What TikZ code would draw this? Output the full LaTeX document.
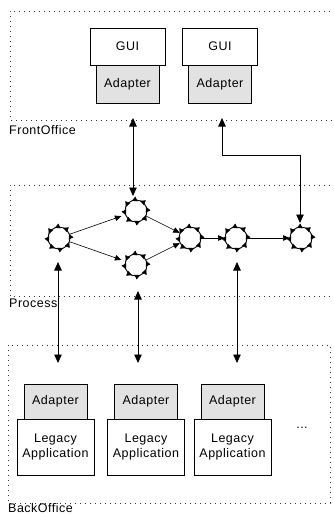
\documentclass[tikz,border=0pt]{standalone}
\usepackage{fontspec}
\setmainfont{Liberation Sans}[LetterSpace=4]
\usetikzlibrary{arrows.meta,decorations.markings}
\definecolor{adgray}{RGB}{226,226,226}
\begin{document}
\begin{tikzpicture}[x=1pt,y=-1pt,
  font=\fontsize{12.5}{15.3}\selectfont,
  zone/.style={line width=0.9pt,dash pattern=on 0.9pt off 4.1pt,black!80},
  box/.style={draw,line width=0.6pt,fill=white,inner sep=0pt},
  guibox/.style={box,minimum width=75pt,minimum height=37pt},
  adbox/.style={box,fill=adgray,minimum width=63pt,minimum height=37pt},
  legbox/.style={box,minimum width=77pt,minimum height=56pt,align=center},
  proc/.style={circle,draw,line width=0.9pt,minimum size=22pt,inner sep=0pt},
  bigb/.style={line width=0.8pt,{Triangle[length=8.5pt,width=7.5pt]}-{Triangle[length=8.5pt,width=7.5pt]}},
  small/.style={line width=0.6pt,-{Triangle[length=6.5pt,width=5.5pt]}},
  lbl/.style={anchor=west,inner sep=0pt}
]
\useasboundingbox (0,0) rectangle (333,515);
% zones
\draw[zone] (340,11) -- (10,11) -- (10,120) -- (340,120);
\draw[zone] (340,185) -- (10,185) -- (10,296) -- (340,296);
\draw[zone] (8,345) rectangle (330,503);
\node[lbl] (lfront) at (9,130) {FrontOffice};
\node[lbl] (lproc) at (9,303) {Process};
\node[lbl] (lback) at (8,508.5) {BackOffice};
% front office
\node[adbox,minimum height=38pt] (fa1) at (127.5,84) {Adapter};
\node[guibox] (g1) at (127.5,46.5) {GUI};
\node[adbox,minimum height=38pt] (fa2) at (220,84) {Adapter};
\node[guibox] (g2) at (220,46.5) {GUI};
% process nodes
\node[proc] (c1) at (59,238) {};
\node[proc] (c2) at (136,211) {};
\node[proc] (c3) at (136,265) {};
\node[proc] (c4) at (190,238) {};
\node[proc] (c5) at (236,238) {};
\node[proc] (c6) at (301,238) {};
\foreach \n in {c1,c2,c3,c4,c5,c6}
  \path[decoration={markings,mark=between positions 0.0625 and 1 step 0.125 with {\arrow{Triangle[length=5pt,width=5pt]}}},decorate] (\n.center) circle (11pt);
\draw[small,shorten >=4pt] (c1) -- (c2);
\draw[small,shorten >=4pt] (c1) -- (c3);
\draw[small] (c2) -- (c4);
\draw[small] (c3) -- (c4);
\draw[small] (c4) -- (c5);
\draw[small] (c5) -- (c6);
% back office
\node[adbox,minimum height=35pt] (ba1) at (55.5,401.5) {Adapter};
\node[legbox] (l1) at (55.5,447) {Legacy\\Application};
\node[adbox,minimum height=35pt] (ba2) at (146,401.5) {Adapter};
\node[legbox] (l2) at (146,447) {Legacy\\Application};
\node[adbox,minimum height=35pt] (ba3) at (232.5,401.5) {Adapter};
\node[legbox] (l3) at (232.5,447) {Legacy\\Application};
\node (dots) at (302,428) {...};
% connector end points
\coordinate (f1) at (133,118);
\coordinate (p1) at (133,196);
\coordinate (f2) at (222,118);
\coordinate (k1) at (222,155);
\coordinate (k2) at (300,155);
\coordinate (p2) at (300,223);
\coordinate (u1) at (58,262);
\coordinate (d1) at (58,363);
\coordinate (u2) at (138,291);
\coordinate (d2) at (138,363);
\coordinate (u3) at (237,262);
\coordinate (d3) at (237,363);
\draw[bigb] (f1) -- (p1);
\draw[bigb] (f2) -- (k1) -- (k2) -- (p2);
\draw[bigb] (u1) -- (d1);
\draw[bigb] (u2) -- (d2);
\draw[bigb] (u3) -- (d3);
\end{tikzpicture}
\end{document}
